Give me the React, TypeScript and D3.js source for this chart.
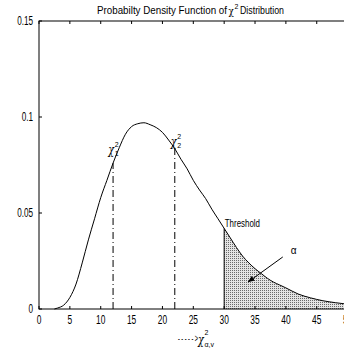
import React from "react";
import * as d3 from "d3";

const xs = [2.5, 3, 4, 5, 6, 7, 8, 9, 10, 11, 12, 13, 14, 15, 16, 17, 18, 19, 20, 21, 22, 23, 24, 25, 26, 27, 28, 29, 30, 31, 32, 33, 34, 35, 36, 37, 38, 39, 40, 42, 44, 46, 48, 50];
const ys = [0, 0.0005, 0.002, 0.006, 0.013, 0.024, 0.036, 0.047, 0.058, 0.067, 0.076, 0.084, 0.091, 0.095, 0.0965, 0.097, 0.096, 0.0945, 0.092, 0.088, 0.0835, 0.078, 0.073, 0.067, 0.062, 0.0575, 0.052, 0.047, 0.042, 0.037, 0.032, 0.0275, 0.024, 0.021, 0.0185, 0.016, 0.014, 0.0125, 0.011, 0.0078, 0.0058, 0.0043, 0.0033, 0.0025];
const xTicks = [0, 5, 10, 15, 20, 25, 30, 35, 40, 45, 50];
const yTicks = [0, 0.05, 0.1, 0.15];
const yTickLabels = ["0", "0.05", "0.1", "0.15"];
const markers = [12, 22];
const threshold = 30;
const arrowFrom = [39.5, 0.0271];
const arrowTo = [33.9, 0.0141];
const alphaPos = [40.8, 0.0285];

const W = 344, H = 352;
const L = 39, T = 21, B = 309, R = 347.6;

export default function App() {
  const x = d3.scaleLinear().domain([0, 50]).range([L, R]);
  const y = d3.scaleLinear().domain([0, 0.15]).range([B, T]);
  const pts: [number, number][] = xs.map((v, i) => [v, ys[i]]);
  const line = d3.line<[number, number]>().x(d => x(d[0])).y(d => y(d[1])).curve(d3.curveMonotoneX);
  const tail = pts.filter(d => d[0] >= threshold);
  const area = d3.area<[number, number]>().x(d => x(d[0])).y0(y(0)).y1(d => y(d[1])).curve(d3.curveMonotoneX);
  const valAt = (v: number) => ys[xs.indexOf(v)];
  const sans = "Liberation Sans, Arial, sans-serif";
  const serif = "DejaVu Serif, serif";
  const cond = (cx: number, cy: number, s: number, anchor: string, txt: React.ReactNode, size = 11, fam = sans) => (
    <g transform={`translate(${cx},${cy}) scale(${s},1)`}>
      <text textAnchor={anchor} fontSize={size} fontFamily={fam} fill="#000">{txt}</text>
    </g>
  );
  const chi = (cx: number, base: number, sub: string) => (
    <g>
      <g transform={`translate(${cx},${base}) scale(0.8,1)`}>
        <text fontSize={12} fontFamily={serif} fontStyle="italic">χ</text>
      </g>
      <text x={cx + 6.5} y={base - 7} fontSize={7} fontFamily={sans}>2</text>
      <text x={cx + 6.5} y={base + 1.5} fontSize={7} fontFamily={sans}>{sub}</text>
    </g>
  );
  return (
    <svg width={W} height={H} style={{ position: "absolute", left: 0, top: 0, background: "#fff" }}>
      <defs>
        <pattern id="dots" width="2" height="2" patternUnits="userSpaceOnUse">
          <rect width="2" height="2" fill="#e4e4e4" />
          <rect width="1" height="1" fill="#6a6a6a" />
        </pattern>
        <marker id="ah" viewBox="0 0 10 10" refX="9" refY="5" markerWidth="7" markerHeight="7" orient="auto">
          <path d="M0,1 L10,5 L0,9 z" fill="#000" />
        </marker>
      </defs>
      <rect x={0} y={0} width={W} height={H} fill="#fff" />
      <path d={area(tail) || ""} fill="url(#dots)" stroke="none" />
      <line x1={x(threshold)} x2={x(threshold)} y1={y(0)} y2={y(valAt(threshold))} stroke="#000" strokeWidth={1} />
      <rect x={L} y={T} width={R - L} height={B - T} fill="none" stroke="#000" strokeWidth={1} />
      {xTicks.map(t => (
        <g key={"xt" + t}>
          <line x1={x(t)} x2={x(t)} y1={B} y2={B - 3} stroke="#000" />
          <line x1={x(t)} x2={x(t)} y1={T} y2={T + 3} stroke="#000" />
          {cond(x(t), 324, 0.7, "middle", String(t), 12)}
        </g>
      ))}
      {yTicks.map((t, i) => (
        <g key={"yt" + t}>
          <line x1={L} x2={L + 3} y1={y(t)} y2={y(t)} stroke="#000" />
          {cond(L - 6, y(t) + 4, 0.68, "end", yTickLabels[i], 12)}
        </g>
      ))}
      <path d={line(pts) || ""} fill="none" stroke="#000" strokeWidth={1} />
      {markers.map(m => (
        <line key={"m" + m} x1={x(m)} x2={x(m)} y1={y(0)} y2={y(valAt(m))} stroke="#000" strokeWidth={1} strokeDasharray="7,3,1,3" />
      ))}
      {chi(x(11.2), y(0.0806), "1")}
      {chi(x(22.0) - 4, y(0.0848), "2")}
      {cond(x(30.1), y(0.0427), 0.72, "start", "Threshold", 11)}
      <line x1={x(arrowFrom[0])} y1={y(arrowFrom[1])} x2={x(arrowTo[0])} y2={y(arrowTo[1])} stroke="#000" strokeWidth={1} markerEnd="url(#ah)" />
      <text x={x(alphaPos[0])} y={y(alphaPos[1])} fontSize={10} fontFamily={sans}>α</text>
      {cond(97, 14, 0.89, "start", "Probabilty Density Function of", 11)}
      {cond(228.5, 15, 0.8, "start", "χ", 11, serif)}
      <text x={234.5} y={8.5} fontSize={7} fontFamily={sans}>2</text>
      {cond(240, 14, 0.8, "start", "Distribution", 11)}
      {cond(178, 342, 0.55, "start", "- - - - - >", 10)}
      <g transform="translate(198,344) scale(0.8,1)">
        <text fontSize={12} fontFamily={serif} fontStyle="italic">χ</text>
      </g>
      <text x={204.5} y={335} fontSize={7} fontFamily={sans}>2</text>
      <text x={204.5} y={347} fontSize={7} fontFamily={sans}>α,v</text>
    </svg>
  );
}
